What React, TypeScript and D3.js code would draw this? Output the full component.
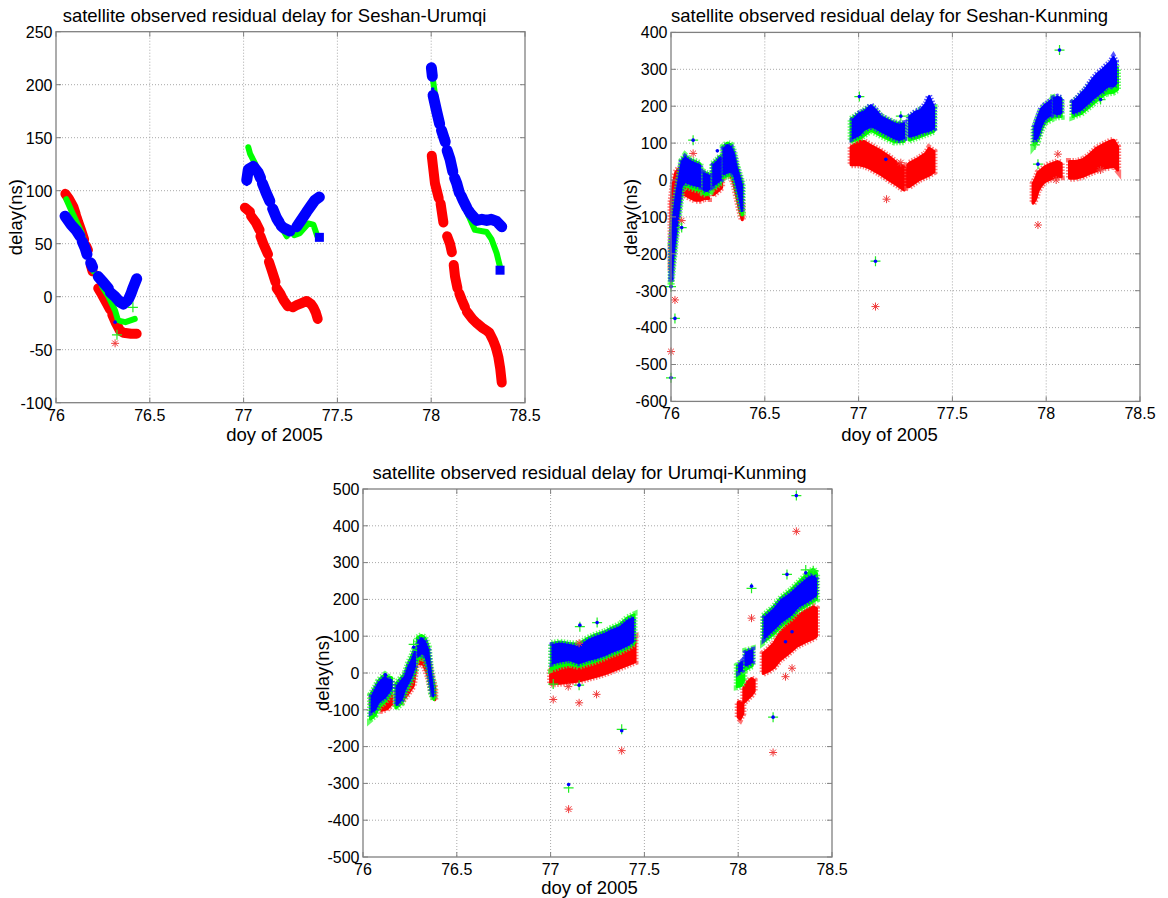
import React from 'react';
import * as d3 from 'd3';

type Trace = [number, number][];
type Band = [number, number, number][];
type Pt = [number, number];

const FONT = '"Liberation Sans", Arial, Helvetica, sans-serif';

const xTicks = [76, 76.5, 77, 77.5, 78, 78.5];
const yTicksSU = [-100, -50, 0, 50, 100, 150, 200, 250];
const yTicksSK = [-600, -500, -400, -300, -200, -100, 0, 100, 200, 300, 400];
const yTicksUK = [-500, -400, -300, -200, -100, 0, 100, 200, 300, 400, 500];

// ---- Seshan-Urumqi (centre line of each pass: doy, delay)
const suRed: Trace[] = [
  [[76.05, 97], [76.07, 92], [76.092, 85], [76.105, 78]],
  [[76.11, 75], [76.119, 70], [76.135, 62], [76.15, 54]],
  [[76.16, 48], [76.17, 44]],
  [[76.185, 30], [76.195, 24]],
  [[76.225, 8], [76.245, 2], [76.27, -6], [76.288, -12]],
  [[76.3, -17], [76.32, -25], [76.341, -32], [76.36, -34], [76.4, -35], [76.43, -35]],
  [[77.007, 84], [77.034, 80]],
  [[77.04, 76], [77.065, 70], [77.085, 63]],
  [[77.09, 57], [77.105, 50], [77.13, 40]],
  [[77.135, 33], [77.15, 25], [77.17, 14]],
  [[77.176, 8], [77.195, 3], [77.212, -3], [77.236, -9]],
  [[77.262, -10], [77.283, -8], [77.31, -6], [77.336, -4], [77.36, -7], [77.372, -10], [77.385, -15], [77.395, -21]],
  [[78.003, 133], [78.02, 107], [78.04, 93]],
  [[78.05, 88], [78.065, 70]],
  [[78.085, 57], [78.1, 50], [78.11, 42]],
  [[78.12, 30], [78.127, 19], [78.14, 8]],
  [[78.15, 3], [78.163, -3], [78.18, -10]],
  [[78.19, -14], [78.198, -16], [78.22, -21], [78.243, -25], [78.27, -29], [78.296, -32], [78.31, -34], [78.33, -41], [78.345, -48], [78.358, -57], [78.368, -68], [78.376, -81]],
];
const suGreen: Trace[] = [
  [[76.055, 92], [76.09, 78], [76.137, 60], [76.165, 42]],
  [[76.185, 30], [76.2, 24]],
  [[76.245, 10], [76.28, 0], [76.315, -13], [76.33, -22]],
  [[76.345, -23], [76.37, -24], [76.42, -21]],
  [[77.025, 141], [77.034, 135], [77.06, 126], [77.08, 117], [77.105, 106], [77.14, 90], [77.176, 74], [77.2, 66], [77.23, 57]],
  [[77.27, 58], [77.3, 60], [77.345, 69], [77.372, 68], [77.393, 57]],
  [[78.003, 213], [78.03, 178], [78.064, 152], [78.1, 130], [78.136, 107], [78.17, 90], [78.2, 76], [78.233, 63], [78.296, 61], [78.322, 54], [78.349, 41], [78.367, 28]],
];
const suBlue: Trace[] = [
  [[76.048, 76], [76.08, 68], [76.11, 62], [76.128, 57]],
  [[76.14, 52], [76.155, 46], [76.165, 40]],
  [[76.185, 32], [76.195, 28]],
  [[76.225, 19], [76.25, 14], [76.279, 8]],
  [[76.29, 4], [76.315, 0], [76.34, -5], [76.359, -7], [76.385, -3], [76.4, 3], [76.412, 9], [76.43, 17]],
  [[77.017, 110], [77.025, 120], [77.052, 123], [77.078, 117], [77.09, 112]],
  [[77.1, 107], [77.12, 98], [77.14, 90]],
  [[77.155, 83], [77.176, 74], [77.19, 70]],
  [[77.2, 67], [77.212, 65], [77.247, 62]],
  [[77.283, 66], [77.31, 73], [77.336, 80], [77.36, 86], [77.38, 91], [77.404, 94]],
  [[78.001, 216], [78.006, 208]],
  [[78.01, 190], [78.029, 175], [78.045, 163]],
  [[78.055, 157], [78.075, 146]],
  [[78.085, 138], [78.1, 130], [78.115, 118]],
  [[78.125, 112], [78.136, 107], [78.15, 98]],
  [[78.16, 95], [78.17, 91], [78.19, 84]],
  [[78.2, 81], [78.207, 79], [78.243, 72], [78.27, 73], [78.296, 72], [78.32, 73], [78.349, 71], [78.376, 66]],
];
const suBlueEnds: Pt[] = [[77.404, 56], [78.367, 25]];
const suBlueOut: Pt[] = [[77.017, 106], [78.008, 196], [76.315, -24]];
const suRedOut: Pt[] = [[76.315, -44]];
const suGreenOut: Pt[] = [[76.325, -36], [76.41, -10]];

// ---- Seshan-Kunming (cloud of each pass: doy, low, high)
const skRed: Band[] = [
  [[76.0, -245, -60], [76.012, -180, -10], [76.025, -100, 20], [76.04, -50, 30], [76.057, -35, 35], [76.075, -40, 25], [76.092, -45, 10], [76.11, -50, 0], [76.13, -55, -5], [76.155, -55, -15], [76.18, -50, -20], [76.2, -50, -20]],
  [[76.225, -40, 0], [76.25, -30, 10], [76.27, -20, 30]],
  [[76.285, 10, 40], [76.3, 15, 40], [76.32, 10, 35], [76.335, -10, 25], [76.35, -45, -10], [76.365, -80, -35], [76.38, -108, -60]],
  [[76.96, 41, 90], [77.004, 41, 104], [77.03, 38, 104], [77.06, 32, 95], [77.11, 18, 81], [77.163, 0, 63], [77.207, -14, 45], [77.243, -27, 36], [77.25, -20, 30]],
  [[77.262, -18, 40], [77.27, -18, 45], [77.32, 0, 59], [77.358, 9, 72], [77.376, 13, 86], [77.402, 22, 77]],
  [[77.93, -63, -10], [77.945, -50, 5], [77.956, -30, 20], [77.973, -15, 27], [77.991, -5, 35], [78.01, 0, 40], [78.035, 5, 45], [78.06, 9, 50], [78.08, 9, 45]],
  [[78.124, 5, 50], [78.16, 5, 50], [78.195, 10, 55], [78.23, 18, 68], [78.266, 25, 85], [78.3, 32, 95], [78.34, 35, 105], [78.36, 40, 108], [78.381, 27, 90]],
];
const skGreen: Band[] = [
  [[76.0, -285, -175], [76.012, -220, -105], [76.025, -160, -48], [76.04, -100, -5], [76.057, -28, 52], [76.075, -15, 66], [76.092, -18, 58], [76.11, -22, 54], [76.13, -25, 50], [76.155, -28, 44]],
  [[76.172, -36, 22], [76.19, -40, 18], [76.208, -34, 15]],
  [[76.222, -24, 44], [76.245, -16, 54], [76.265, -8, 66]],
  [[76.278, 6, 90], [76.3, 12, 100], [76.32, 14, 95], [76.335, 6, 76], [76.35, -24, 40], [76.365, -60, 14], [76.38, -95, -10]],
  [[76.96, 105, 165], [77.004, 112, 180], [77.066, 135, 200], [77.12, 120, 172], [77.19, 103, 155], [77.243, 104, 152]],
  [[77.27, 108, 170], [77.33, 118, 190], [77.402, 132, 195]],
  [[77.935, 95, 140], [77.956, 108, 168], [77.973, 135, 190], [77.991, 155, 200], [78.027, 165, 215]],
  [[78.04, 170, 222], [78.08, 172, 220]],
  [[78.142, 172, 210], [78.186, 180, 230], [78.23, 198, 255], [78.275, 218, 280], [78.319, 235, 300], [78.358, 238, 320], [78.38, 245, 300]],
];
const skBlue: Band[] = [
  [[76.0, -275, -170], [76.012, -210, -100], [76.025, -150, -45], [76.04, -90, 0], [76.057, -18, 50], [76.075, -5, 62], [76.092, -9, 55], [76.11, -12, 50], [76.13, -15, 45], [76.155, -18, 40]],
  [[76.175, -27, 18], [76.19, -30, 15], [76.205, -25, 12]],
  [[76.225, -15, 40], [76.245, -8, 50], [76.265, 0, 62]],
  [[76.28, 15, 85], [76.3, 20, 95], [76.32, 22, 90], [76.335, 15, 72], [76.35, -15, 35], [76.365, -50, 10], [76.378, -85, -15]],
  [[76.968, 113, 163], [77.004, 122, 181], [77.03, 136, 186], [77.066, 145, 203], [77.092, 140, 190], [77.12, 131, 172], [77.155, 122, 163], [77.19, 113, 154], [77.215, 108, 150], [77.243, 113, 154]],
  [[77.27, 117, 172], [77.305, 122, 186], [77.33, 127, 190], [77.358, 131, 208], [77.376, 133, 228], [77.402, 140, 199]],
  [[77.938, 103, 144], [77.956, 117, 171], [77.973, 144, 194], [77.991, 163, 203], [78.01, 171, 210], [78.027, 175, 217]],
  [[78.04, 181, 222], [78.06, 178, 226], [78.08, 181, 222]],
  [[78.142, 181, 212], [78.165, 185, 222], [78.186, 190, 235], [78.205, 199, 244], [78.23, 210, 262], [78.25, 220, 276], [78.275, 230, 290], [78.3, 240, 300], [78.319, 250, 310], [78.34, 255, 320], [78.358, 253, 334], [78.372, 260, 322]],
];
const skBlueOut: Pt[] = [[76.0, -536], [76.021, -375], [76.0, -289], [76.003, -267], [76.118, 108], [76.247, 79], [76.057, -129], [77.004, 226], [77.225, 173], [77.145, 56], [77.09, -220], [78.071, 352], [77.956, 43], [78.29, 218]];
const skGreenOut: Pt[] = [[76.0, -536], [76.021, -375], [76.0, -289], [76.118, 108], [76.057, -129], [77.004, 226], [77.225, 173], [77.09, -220], [78.071, 352], [77.956, 43], [77.94, 95], [78.29, 218]];
const skRedOut: Pt[] = [[76.0, -465], [76.021, -325], [76.118, 72], [76.057, -110], [77.149, -52], [77.225, 47], [77.09, -343], [77.956, -122], [78.062, 70], [78.053, 0], [78.29, 27]];

// ---- Urumqi-Kunming
const ukRed: Band[] = [
  [[76.046, -82, -55], [76.073, -92, -55], [76.099, -101, -60], [76.126, -98, -55], [76.152, -85, -50]],
  [[76.179, -80, -55], [76.206, -78, -50], [76.241, -55, -10], [76.268, -35, 10], [76.285, 25, 50]],
  [[76.294, 25, 54], [76.321, 25, 50], [76.348, -10, 30], [76.365, -50, -10], [76.383, -73, -40]],
  [[77.0, -30, 12], [77.05, -28, 15], [77.1, -25, 20], [77.15, -22, 22], [77.2, -15, 28], [77.25, -8, 40], [77.3, 0, 50], [77.35, 10, 62], [77.4, 20, 80], [77.45, 30, 95]],
  [[78.0, -120, -80], [78.01, -125, -78], [78.025, -110, -85]],
  [[78.03, -80, -40], [78.05, -70, -25], [78.07, -60, -15], [78.085, -50, -20]],
  [[78.133, -1, 53], [78.16, 5, 65], [78.19, 15, 80], [78.222, 35, 108], [78.26, 50, 130], [78.31, 72, 153], [78.36, 85, 170], [78.4, 94, 180], [78.417, 100, 175]],
];
const ukGreen: Band[] = [
  [[76.04, -125, -60], [76.064, -115, -40], [76.082, -95, -22], [76.099, -85, -12], [76.117, -78, -5], [76.135, -65, -12], [76.152, -52, -12]],
  [[76.175, -95, -30], [76.206, -82, -12], [76.223, -55, -3], [76.241, -38, 25], [76.259, -18, 45], [76.277, 8, 68]],
  [[76.29, 35, 96], [76.312, 45, 102], [76.33, 40, 95], [76.348, 8, 72], [76.357, -28, 25], [76.365, -55, -2], [76.378, -72, -38]],
  [[77.005, 10, 80], [77.05, 18, 84], [77.1, 24, 80], [77.15, 18, 78], [77.2, 26, 95], [77.24, 32, 104], [77.29, 42, 112], [77.325, 50, 122], [77.37, 58, 132], [77.41, 68, 150], [77.445, 80, 158]],
  [[77.995, -37, 20], [78.015, -35, 28], [78.03, -20, 30]],
  [[78.04, 10, 60], [78.075, 20, 65]],
  [[78.135, 85, 155], [78.186, 105, 178], [78.23, 128, 205], [78.28, 148, 225], [78.32, 170, 245], [78.37, 185, 270], [78.4, 195, 282], [78.418, 200, 270]],
];
const ukBlue: Band[] = [
  [[76.046, -106, -64], [76.064, -101, -46], [76.082, -82, -28], [76.099, -73, -19], [76.117, -67, -10], [76.135, -55, -19], [76.152, -42, -19]],
  [[76.179, -87, -37], [76.206, -73, -19], [76.223, -46, -10], [76.241, -28, 17], [76.259, -10, 35], [76.277, 17, 58]],
  [[76.294, 45, 86], [76.312, 54, 95], [76.33, 49, 86], [76.348, 17, 63], [76.357, -19, 17], [76.365, -46, -10], [76.374, -64, -46]],
  [[77.01, 26, 76], [77.05, 31, 80], [77.1, 35, 76], [77.15, 26, 71], [77.2, 35, 89], [77.24, 40, 98], [77.29, 49, 107], [77.325, 57, 116], [77.37, 66, 125], [77.41, 75, 142], [77.44, 85, 150]],
  [[78.005, 3, 22], [78.02, 8, 30]],
  [[78.04, 20, 55], [78.06, 25, 60], [78.075, 30, 62]],
  [[78.14, 95, 150], [78.186, 117, 171], [78.23, 139, 198], [78.28, 157, 216], [78.32, 180, 235], [78.37, 194, 257], [78.4, 205, 266], [78.415, 210, 255]],
];
const ukBlueOut: Pt[] = [[76.12, -5], [76.27, 70], [77.156, 130], [77.248, 137], [77.152, -33], [77.096, -303], [77.379, -157], [78.071, 236], [78.186, -120], [78.26, 268], [78.31, 482], [78.36, 272], [78.252, 85], [78.287, 112]];
const ukGreenOut: Pt[] = [[76.27, 78], [77.014, -30], [77.156, 126], [77.248, 137], [77.152, -33], [77.096, -312], [77.379, -153], [78.071, 230], [78.186, -120], [78.26, 268], [78.31, 482], [78.36, 280], [78.4, 278]];
const ukRedOut: Pt[] = [[77.014, -72], [77.094, -37], [77.152, -81], [77.152, 81], [77.245, -58], [77.096, -370], [77.379, -211], [78.071, 149], [78.186, -216], [78.287, 13], [78.252, -10], [78.31, 385]];

const RED = '#ff0000';
const GREEN = '#00ff00';
const BLUE = '#0000ff';
const FRINGE = { red: '#ff4a4a', green: '#33ff33', blue: '#1a1aff' };

const asBand = (t: Trace): Band => t.map(([d, v]) => [d, v, v]);

function plusPath(cx: number, cy: number, s: number) {
  return `M${cx - s},${cy}H${cx + s}M${cx},${cy - s}V${cy + s}`;
}
function starPath(cx: number, cy: number, s: number) {
  const k = s * 0.72;
  return plusPath(cx, cy, s) + `M${cx - k},${cy - k}L${cx + k},${cy + k}M${cx - k},${cy + k}L${cx + k},${cy - k}`;
}

function Panel(props: any) {
  const { left, top, width, height, yDomain, yTicks, title, red, green, blue, strokes, fuzz, redOut, greenOut, blueOut, blueEnds, titleShift } = props;
  const x = d3.scaleLinear().domain([76, 78.5]).range([left, left + width]);
  const y = d3.scaleLinear().domain(yDomain).range([top + height, top]);
  const area = d3
    .area<[number, number, number]>()
    .x((d) => x(d[0]))
    .y0((d) => y(d[1]))
    .y1((d) => y(d[2]));
  const right = left + width;
  const bottom = top + height;
  const cx = left + width / 2;

  const layer = (bands: Band[], color: string, fringe: string, sw: number) =>
    bands.map((b, i) => {
      const d = area(b) || '';
      return (
        <g key={i}>
          {fuzz && <path d={d} fill="none" stroke={fringe} strokeWidth={sw + 4} strokeDasharray="1.5,1.5" opacity={0.75} />}
          <path d={d} fill={color} stroke={color} strokeWidth={sw} strokeLinejoin="round" strokeLinecap="round" />
        </g>
      );
    });

  return (
    <g>
      {xTicks.slice(1, -1).map((t) => (
        <line key={'gx' + t} x1={x(t)} x2={x(t)} y1={top} y2={bottom} stroke="#a8a8a8" strokeDasharray="1,2" />
      ))}
      {yTicks.slice(1, -1).map((t: number) => (
        <line key={'gy' + t} x1={left} x2={right} y1={y(t)} y2={y(t)} stroke="#a8a8a8" strokeDasharray="1,2" />
      ))}

      {layer(red, RED, FRINGE.red, strokes[0])}
      {layer(green, GREEN, FRINGE.green, strokes[1])}
      {layer(blue, BLUE, FRINGE.blue, strokes[2])}

      {redOut.map((p: Pt, i: number) => (
        <path key={'ro' + i} d={starPath(x(p[0]), y(p[1]), 4)} stroke="#f03c3c" strokeWidth={1} fill="none" />
      ))}
      {greenOut.map((p: Pt, i: number) => (
        <path key={'go' + i} d={plusPath(x(p[0]), y(p[1]), 5)} stroke="#22ee22" strokeWidth={1.2} fill="none" />
      ))}
      {blueOut.map((p: Pt, i: number) => (
        <circle key={'bo' + i} cx={x(p[0])} cy={y(p[1])} r={1.8} fill={BLUE} />
      ))}
      {blueEnds.map((p: Pt, i: number) => (
        <rect key={'be' + i} x={x(p[0]) - 4.5} y={y(p[1]) - 4.5} width={9} height={9} fill={BLUE} />
      ))}

      <rect x={left} y={top} width={width} height={height} fill="none" stroke="#808080" strokeWidth={1.3} />
      {xTicks.map((t) => (
        <g key={'tx' + t}>
          <line x1={x(t)} x2={x(t)} y1={bottom} y2={bottom - 5} stroke="#808080" />
          <line x1={x(t)} x2={x(t)} y1={top} y2={top + 5} stroke="#808080" />
          <text x={x(t)} y={bottom + 18} textAnchor="middle" fontSize={16} fontFamily={FONT} fill="#000">
            {t}
          </text>
        </g>
      ))}
      {yTicks.map((t: number) => (
        <g key={'ty' + t}>
          <line x1={left} x2={left + 5} y1={y(t)} y2={y(t)} stroke="#808080" />
          <line x1={right} x2={right - 5} y1={y(t)} y2={y(t)} stroke="#808080" />
          <text x={left - 3.5} y={y(t) + 5.8} textAnchor="end" fontSize={16} fontFamily={FONT} fill="#000">
            {t}
          </text>
        </g>
      ))}

      <text x={cx + titleShift} y={top - 10} textAnchor="middle" fontSize={18.5} fontFamily={FONT} fill="#000">
        {title}
      </text>
      <text x={cx + titleShift} y={props.xLabelY} textAnchor="middle" fontSize={18.5} fontFamily={FONT} fill="#000">
        doy of 2005
      </text>
      <text
        transform={`translate(${left - 34},${top + height / 2}) rotate(-90)`}
        textAnchor="middle"
        fontSize={18.5}
        fontFamily={FONT}
        fill="#000"
      >
        delay(ns)
      </text>
    </g>
  );
}

export default function App() {
  return (
    <svg width={1168} height={898} style={{ position: 'absolute', left: 0, top: 0, background: '#fff' }}>
      <rect width={1168} height={898} fill="#fff" />
      <Panel
        left={56}
        top={31.7}
        width={469}
        height={371}
        yDomain={[-100, 250]}
        yTicks={yTicksSU}
        title="satellite observed residual delay for Seshan-Urumqi"
        red={suRed.map(asBand)}
        green={suGreen.map(asBand)}
        blue={suBlue.map(asBand)}
        strokes={[10, 6, 11]}
        fuzz={false}
        redOut={suRedOut}
        greenOut={suGreenOut}
        blueOut={suBlueOut}
        blueEnds={suBlueEnds}
        titleShift={-16}
        xLabelY={441}
      />
      <Panel
        left={671}
        top={32.4}
        width={469}
        height={369}
        yDomain={[-600, 400]}
        yTicks={yTicksSK}
        title="satellite observed residual delay for Seshan-Kunming"
        red={skRed}
        green={skGreen}
        blue={skBlue}
        strokes={[3, 3, 2]}
        fuzz={true}
        redOut={skRedOut}
        greenOut={skGreenOut}
        blueOut={skBlueOut}
        blueEnds={[]}
        titleShift={-16}
        xLabelY={441}
      />
      <Panel
        left={363}
        top={489}
        width={469}
        height={368}
        yDomain={[-500, 500]}
        yTicks={yTicksUK}
        title="satellite observed residual delay for Urumqi-Kunming"
        red={ukRed}
        green={ukGreen}
        blue={ukBlue}
        strokes={[3, 3, 2]}
        fuzz={true}
        redOut={ukRedOut}
        greenOut={ukGreenOut}
        blueOut={ukBlueOut}
        blueEnds={[]}
        titleShift={-8}
        xLabelY={894}
      />
    </svg>
  );
}
